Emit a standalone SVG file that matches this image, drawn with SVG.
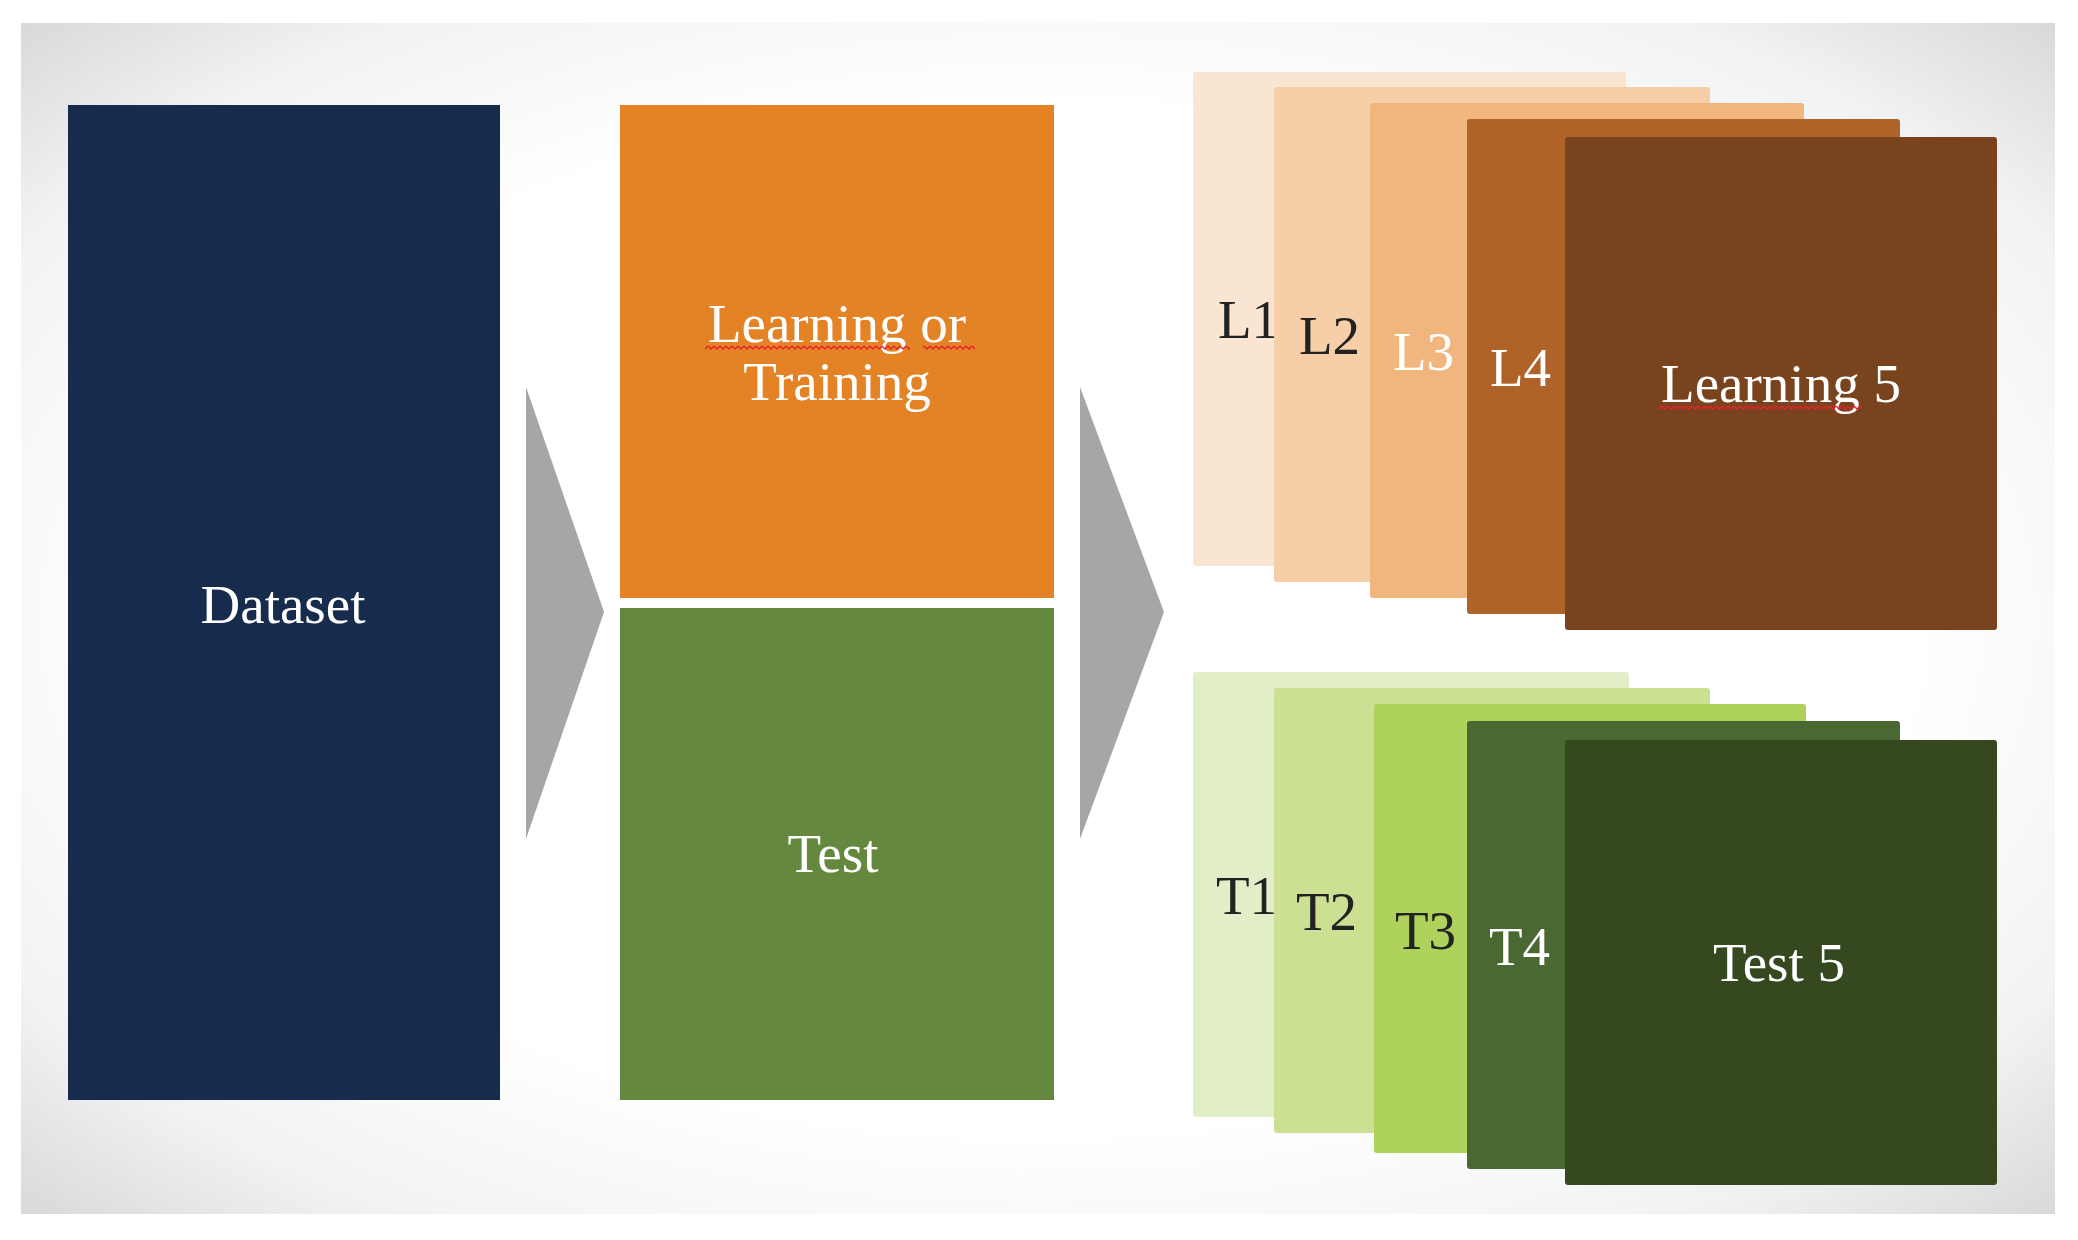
<svg xmlns="http://www.w3.org/2000/svg" width="2078" height="1240" viewBox="0 0 2078 1240">
<defs>
  <radialGradient id="bg" cx="0.5" cy="0.5" r="0.72">
    <stop offset="0" stop-color="#ffffff"/>
    <stop offset="0.6" stop-color="#ffffff"/>
    <stop offset="0.82" stop-color="#f1f2f3"/>
    <stop offset="1" stop-color="#d5d6d8"/>
  </radialGradient>
  <pattern id="squig" width="6" height="5" patternUnits="userSpaceOnUse">
    <path d="M0,1 L3,4 L6,1" fill="none" stroke="#e8202a" stroke-width="1.4"/>
  </pattern>
</defs>
<style>
  text { font-family: "Liberation Serif", "Times New Roman", serif; font-size: 55px; }
  .w { fill: #ffffff; }
  .d { fill: #222222; }
  .c { text-anchor: middle; }
</style>
<rect x="21" y="23" width="2034" height="1191" fill="url(#bg)"/>

<g id="connectors">
  <polygon points="526,387 604,612 526,839" fill="#a6a6a6"/>
  <polygon points="1080,387 1164,612 1080,839" fill="#a6a6a6"/>
</g>

<g id="dataset">
  <rect x="68" y="105" width="432" height="995" fill="#172b4d"/>
  <text class="w c" x="283" y="623">Dataset</text>
</g>

<g id="learning">
  <rect x="620" y="105" width="434" height="493" fill="#e48326"/>
  <text class="w c" x="837" y="342">Learning or</text>
  <text class="w c" x="837" y="400">Training</text>
  <rect x="705" y="345" width="205" height="5" fill="url(#squig)"/>
  <rect x="923" y="345" width="52" height="5" fill="url(#squig)"/>
</g>

<g id="test">
  <rect x="620" y="608" width="434" height="492" fill="#64893e"/>
  <text class="w c" x="833" y="872">Test</text>
</g>

<g id="L1">
  <rect x="1193" y="72" width="433" height="494" rx="3" fill="#fae5d3"/>
  <text class="d" x="1218" y="338">L1</text>
</g>
<g id="L2">
  <rect x="1274" y="87" width="436" height="495" rx="3" fill="#f6cfa8"/>
  <text class="d" x="1299" y="354">L2</text>
</g>
<g id="L3">
  <rect x="1370" y="103" width="434" height="495" rx="3" fill="#f0b67d"/>
  <text class="w" x="1393" y="370">L3</text>
</g>
<g id="L4">
  <rect x="1467" y="119" width="433" height="495" rx="3" fill="#b06329"/>
  <text class="w" x="1490" y="386">L4</text>
</g>
<g id="L5">
  <rect x="1565" y="137" width="432" height="493" rx="3" fill="#79431e"/>
  <text class="w c" x="1781" y="402">Learning 5</text>
  <rect x="1658" y="405" width="204" height="5" fill="url(#squig)"/>
</g>

<g id="T1">
  <rect x="1193" y="672" width="436" height="445" rx="3" fill="#e2eec8"/>
  <text class="d" x="1216" y="914">T1</text>
</g>
<g id="T2">
  <rect x="1274" y="688" width="436" height="445" rx="3" fill="#cbe093"/>
  <text class="d" x="1296" y="930">T2</text>
</g>
<g id="T3">
  <rect x="1374" y="704" width="432" height="449" rx="3" fill="#aed25c"/>
  <text class="d" x="1395" y="949">T3</text>
</g>
<g id="T4">
  <rect x="1467" y="721" width="433" height="448" rx="3" fill="#4a6831"/>
  <text class="w" x="1489" y="965">T4</text>
</g>
<g id="T5">
  <rect x="1565" y="740" width="432" height="445" rx="3" fill="#354820"/>
  <text class="w c" x="1779" y="981">Test 5</text>
</g>
</svg>
